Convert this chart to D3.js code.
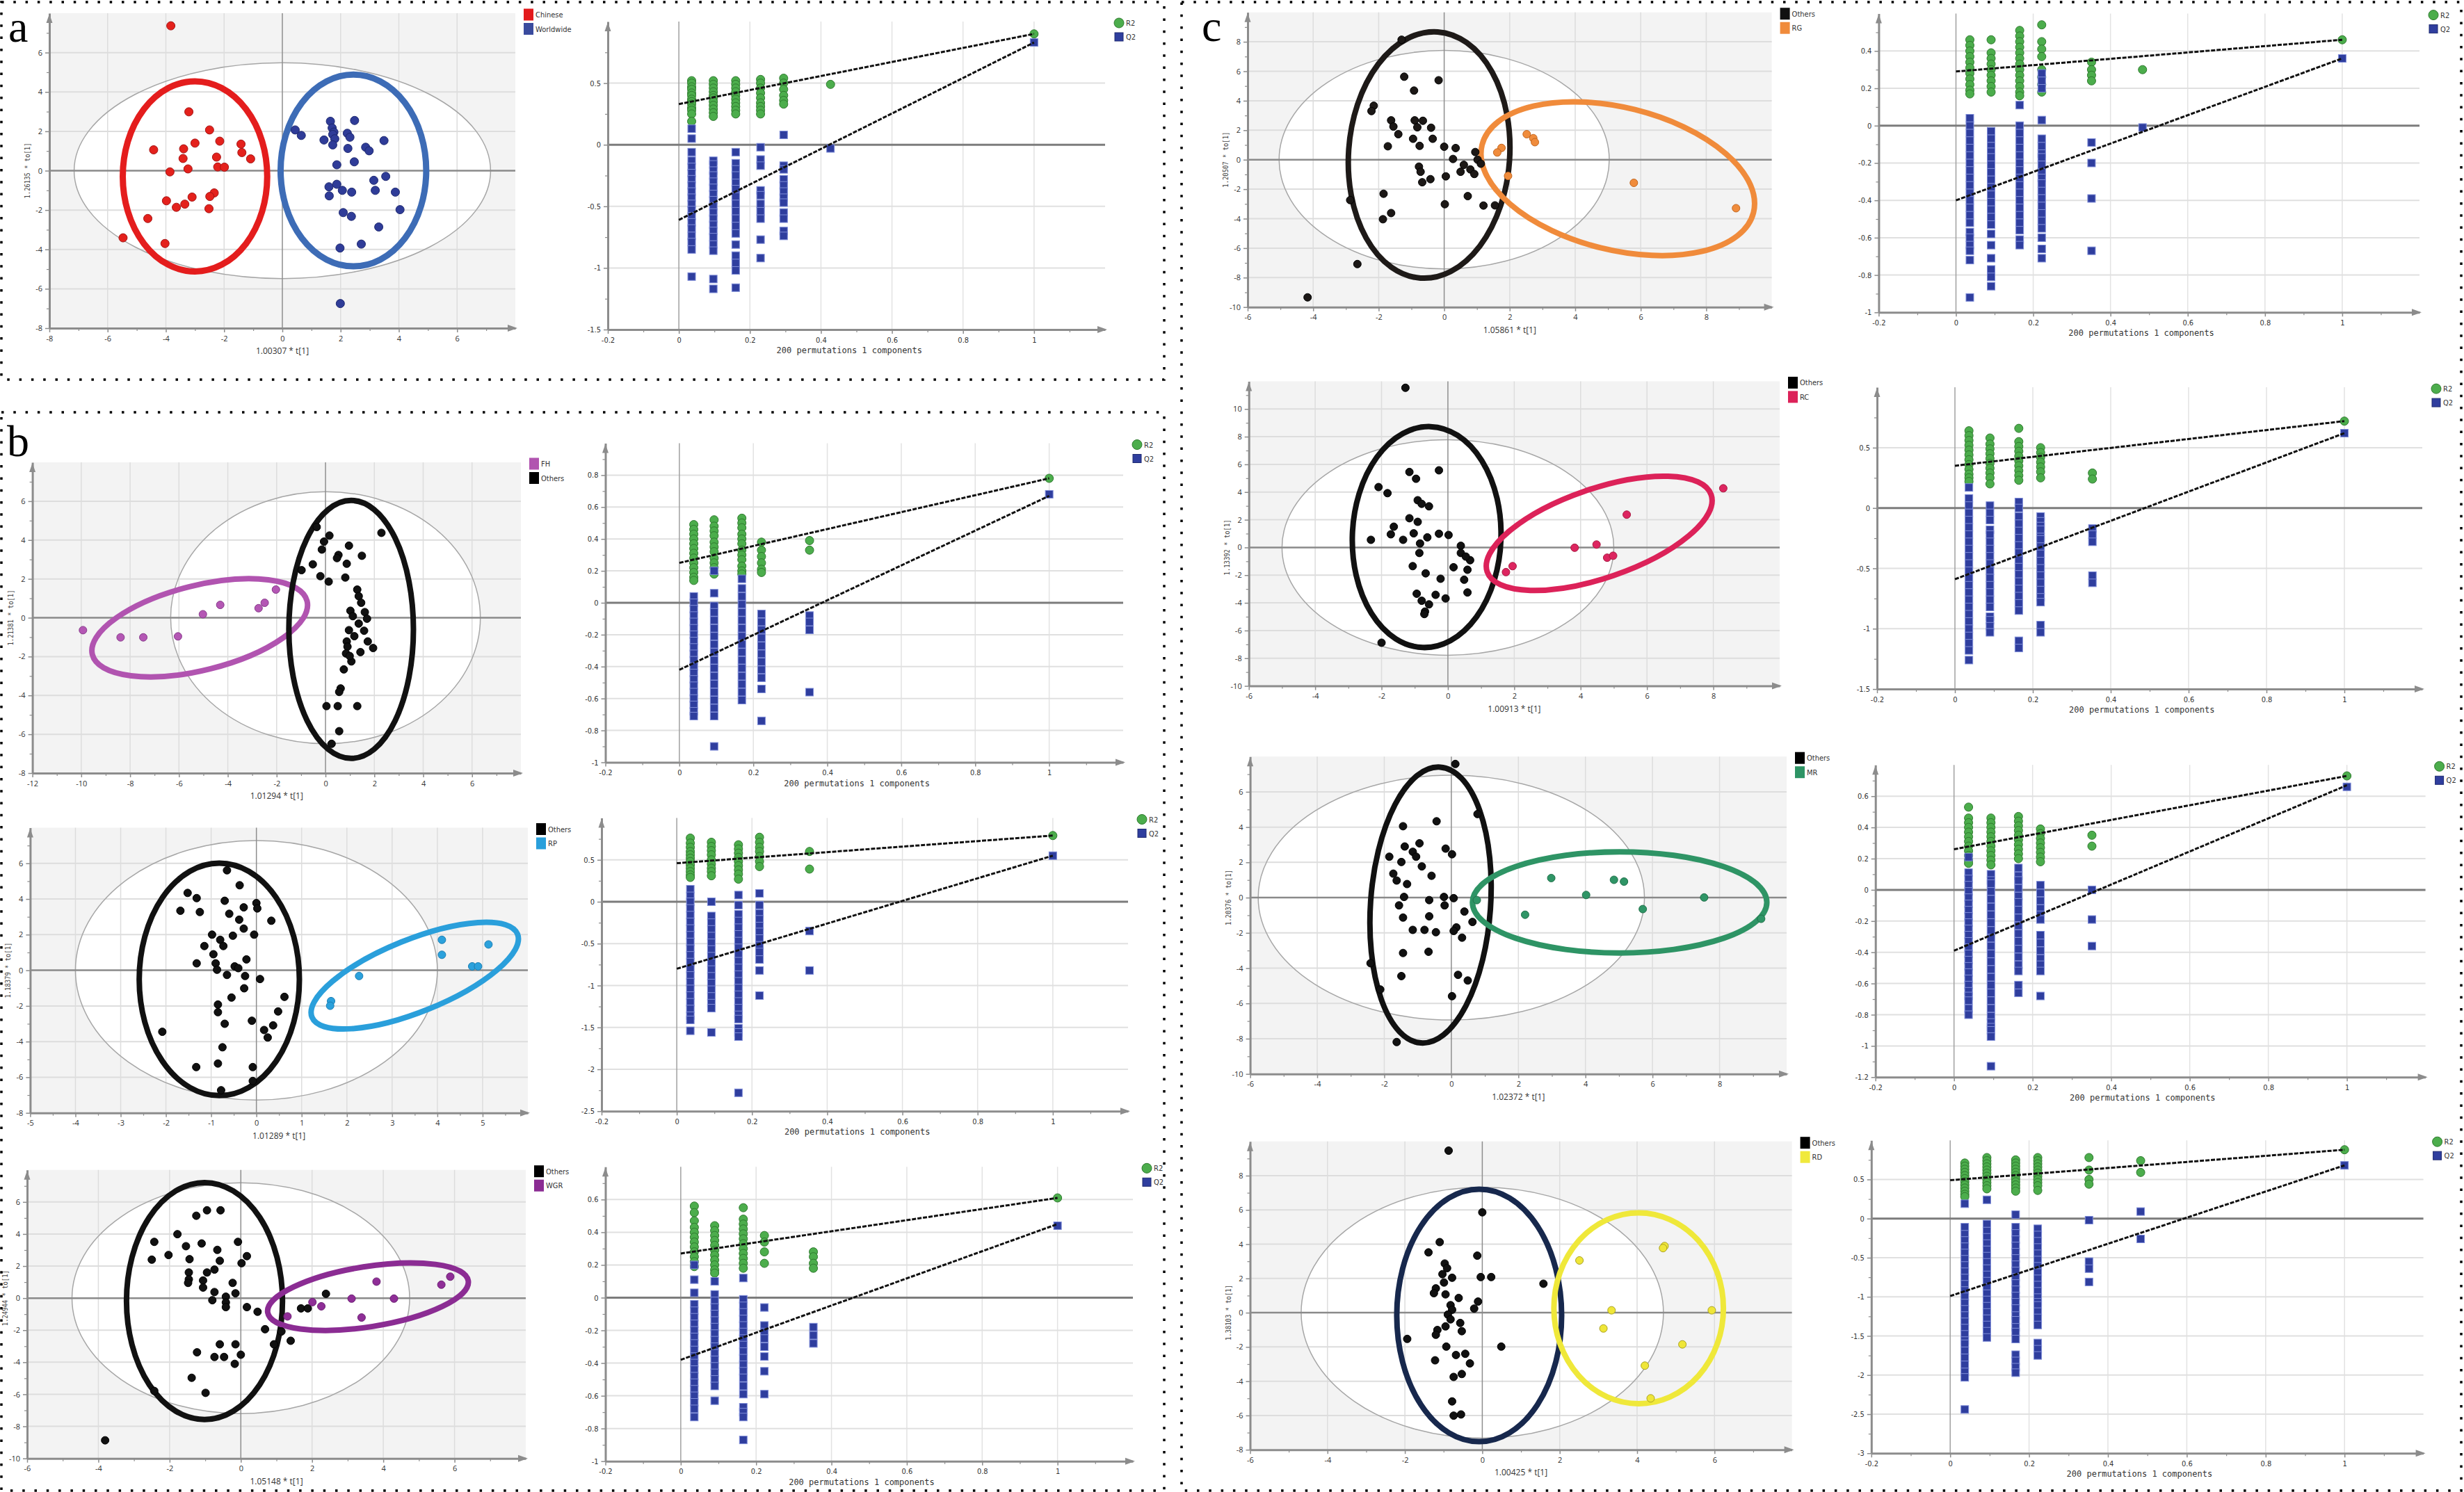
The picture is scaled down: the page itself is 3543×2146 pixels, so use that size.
<!DOCTYPE html>
<html>
<head>
<meta charset="utf-8">
<script src="https://cdn.jsdelivr.net/npm/d3@7/dist/d3.min.js"></script>
<style>
body { margin: 0; background: #fff; }
</style>
</head>
<body>
<script>
// ---------------- score plot data (t[1], to[1]) ----------------
var aChinese = [[-3.83,7.36],[-3.21,2.99],[-2.50,2.07],[-4.42,1.06],[-3.39,1.11],[-3.00,1.40],[-2.15,1.50],[-1.42,1.35],[-1.39,0.92],[-1.09,0.60],[-3.41,0.62],[-2.26,0.69],[-2.22,0.19],[-1.99,0.18],[-3.24,0.09],[-3.86,-0.06],[-3.10,-1.34],[-2.34,-1.13],[-2.49,-1.31],[-3.98,-1.53],[-3.64,-1.86],[-3.35,-1.70],[-2.52,-1.93],[-4.62,-2.43],[-5.47,-3.41],[-4.03,-3.70]];
var aWorldwide = [[0.44,2.07],[0.65,1.79],[1.65,2.51],[2.48,2.55],[1.71,2.17],[1.77,1.96],[1.73,1.84],[1.80,1.62],[1.43,1.56],[1.73,1.31],[2.23,1.90],[2.32,1.70],[2.25,1.13],[2.86,1.19],[2.98,1.01],[3.49,1.53],[1.87,0.30],[2.47,0.45],[3.14,-0.49],[3.55,-0.29],[1.60,-0.82],[1.87,-0.69],[2.06,-1.00],[2.38,-1.09],[1.61,-1.28],[3.19,-1.00],[3.88,-1.09],[4.04,-1.98],[2.09,-2.13],[2.37,-2.32],[3.31,-2.86],[1.98,-3.93],[2.71,-3.73],[1.99,-6.75]];

var b1FH = [[-9.93,-0.64],[-8.39,-1.01],[-7.46,-1.01],[-6.04,-0.96],[-5.02,0.18],[-4.31,0.66],[-2.74,0.49],[-2.49,0.77],[-2.03,1.45]];
var b1Others = [[-0.36,4.67],[2.29,4.37],[0.16,4.23],[-0.06,3.92],[0.96,3.71],[-0.15,3.51],[0.53,3.23],[0.47,3.07],[1.49,3.19],[-0.52,2.75],[0.87,2.78],[-0.98,2.45],[-0.21,2.14],[0.13,1.86],[0.81,2.07],[1.30,1.45],[1.36,1.11],[1.46,0.77],[1.02,0.36],[1.61,0.29],[1.12,0.08],[1.70,-0.05],[1.36,-0.30],[0.96,-0.64],[1.58,-0.67],[1.18,-0.95],[0.87,-1.22],[1.73,-1.22],[1.95,-1.56],[1.43,-1.77],[0.90,-1.49],[0.84,-1.84],[1.06,-2.25],[0.99,-1.97],[0.75,-2.66],[0.62,-3.64],[0.56,-3.82],[0.04,-4.55],[0.50,-4.55],[1.30,-4.55],[0.56,-5.84],[0.25,-6.49]];

var b2Others = [[-0.65,5.61],[-0.37,4.77],[-1.52,4.34],[-1.32,4.05],[-0.70,3.90],[0.00,3.77],[-0.28,3.53],[-1.68,3.34],[-1.25,3.27],[-0.60,3.17],[0.02,3.47],[-0.38,2.84],[0.33,2.78],[-0.28,2.34],[-0.98,2.00],[-0.52,1.94],[-0.05,2.00],[-0.80,1.71],[-1.15,1.36],[-0.73,1.36],[-0.95,0.90],[-0.22,0.61],[-1.32,0.39],[-0.90,0.39],[-0.48,0.22],[-0.87,0.03],[-0.40,0.12],[-0.65,-0.26],[-0.25,-0.32],[0.08,-0.49],[-0.27,-1.01],[0.62,-1.49],[-0.55,-1.53],[-0.85,-1.92],[-0.85,-2.35],[0.48,-2.31],[-0.10,-2.83],[-0.70,-3.00],[0.37,-3.09],[-2.08,-3.45],[0.17,-3.35],[0.25,-3.77],[-0.75,-4.32],[-1.33,-5.43],[-0.85,-5.23],[-0.08,-5.43],[-0.08,-6.21],[-0.78,-6.73]];
var b2RP = [[4.10,1.71],[4.10,0.87],[5.13,1.45],[4.77,0.22],[4.90,0.22],[2.27,-0.32],[1.65,-1.73],[1.63,-1.99]];

var b3Others = [[-0.95,5.48],[-0.57,5.48],[-1.25,5.14],[-1.78,3.99],[-2.43,3.51],[-1.54,3.24],[-1.10,3.41],[-0.08,3.51],[-0.66,3.01],[-2.03,2.69],[-2.50,2.40],[-1.44,2.43],[-0.59,2.33],[0.17,2.62],[0.02,2.18],[-0.74,1.78],[-0.95,1.60],[-1.46,1.60],[-1.46,1.17],[-1.06,1.10],[-1.48,0.95],[-0.23,0.95],[-1.06,0.66],[-0.74,0.38],[-0.15,0.30],[-0.42,0.09],[-0.80,-0.13],[-0.42,-0.27],[-0.42,-0.56],[0.17,-0.56],[0.47,-0.85],[2.39,0.27],[1.69,-0.64],[1.88,-0.64],[0.68,-1.94],[1.14,-2.08],[1.40,-2.66],[0.93,-2.88],[-0.59,-2.88],[-0.15,-2.88],[-1.23,-3.38],[-0.74,-3.67],[-0.47,-3.67],[0.00,-3.53],[-0.17,-4.10],[-1.38,-4.97],[-2.43,-5.79],[-0.99,-5.91],[-3.81,-8.87]];
var b3WGR = [[5.88,1.34],[5.63,0.84],[3.81,1.03],[3.11,-0.03],[4.30,-0.03],[2.01,-0.25],[2.26,-0.51],[3.39,-1.21],[1.31,-1.14]];

var c1Others = [[-1.30,8.14],[-1.22,5.63],[-0.17,5.39],[-0.92,4.69],[-2.15,3.66],[-2.22,3.30],[-1.62,2.67],[-0.90,2.67],[-0.65,2.64],[-1.55,2.25],[-0.82,2.20],[-0.40,2.17],[-1.40,1.73],[-0.95,1.42],[-0.35,1.42],[-0.75,0.94],[-1.72,0.91],[0.00,0.88],[0.35,0.79],[0.95,0.52],[0.27,0.05],[1.02,0.00],[1.12,-0.27],[0.60,-0.35],[-0.77,-0.47],[-0.72,-0.82],[0.50,-0.82],[0.80,-0.66],[0.92,-0.97],[0.05,-1.13],[-0.42,-1.32],[-0.67,-1.53],[-1.85,-2.31],[-2.87,-2.74],[0.72,-2.47],[0.02,-3.02],[1.20,-3.11],[1.55,-3.10],[-1.62,-3.62],[-1.87,-4.04],[-2.65,-7.08],[-4.17,-9.34]];
var c1RG = [[2.52,1.73],[2.72,1.46],[2.77,1.19],[1.75,0.80],[1.62,0.49],[1.95,-1.10],[5.79,-1.57],[8.91,-3.29]];

var c2Others = [[-1.28,11.53],[-1.16,5.45],[-0.27,5.57],[-0.96,4.96],[-2.09,4.36],[-1.82,3.92],[-0.91,3.41],[-0.57,2.97],[-0.79,3.15],[-1.16,2.11],[-0.91,1.85],[-1.63,1.50],[-1.03,1.02],[-0.27,0.99],[0.02,0.90],[-0.62,0.73],[-1.72,0.95],[-2.32,0.55],[-1.35,0.55],[-0.84,0.29],[0.39,0.12],[-0.86,-0.40],[0.39,-0.40],[0.67,-0.92],[0.54,-0.66],[-1.06,-1.35],[0.17,-1.43],[0.59,-1.61],[-0.67,-1.87],[-0.22,-2.26],[0.49,-2.33],[-0.94,-3.34],[-0.37,-3.42],[0.59,-3.25],[-0.07,-3.68],[-0.79,-3.85],[-0.57,-4.11],[-0.69,-4.63],[-0.71,-4.81],[-2.00,-6.88]];
var c2RC = [[8.30,4.27],[5.39,2.37],[3.82,-0.02],[4.48,0.21],[4.80,-0.74],[4.98,-0.60],[1.95,-1.35],[1.75,-1.78]];

var c3Others = [[0.12,7.58],[0.78,4.74],[-0.44,4.33],[-1.44,4.05],[-0.95,3.08],[-1.39,2.90],[-0.17,2.78],[0.02,2.46],[-1.15,2.60],[-1.05,2.32],[-1.85,2.32],[-1.49,2.02],[-0.88,1.77],[-0.59,1.24],[-1.73,1.36],[-1.63,0.97],[-1.32,0.77],[-1.41,0.04],[-0.66,-0.14],[-0.22,0.04],[0.07,-0.03],[-0.20,-0.44],[-1.56,-0.44],[0.39,-0.79],[-1.44,-1.13],[-0.66,-1.06],[0.63,-1.38],[-1.15,-1.83],[-0.80,-1.83],[0.15,-1.69],[-0.46,-1.96],[0.07,-1.89],[0.32,-2.27],[-1.44,-3.14],[-0.68,-3.07],[-2.41,-3.72],[-1.49,-4.45],[0.20,-4.38],[0.49,-4.70],[-2.12,-5.21],[0.02,-5.59],[-1.63,-8.19]];
var c3MR = [[2.98,1.11],[4.85,1.01],[5.15,0.91],[4.02,0.15],[7.54,0.01],[5.71,-0.65],[2.20,-0.97],[0.76,-0.14],[9.24,-1.20]];

var c4Others = [[-0.87,9.46],[0.00,5.86],[-1.10,4.12],[-1.39,3.52],[-0.13,3.33],[-0.97,2.87],[-0.91,2.60],[-1.03,2.25],[-0.78,2.04],[-0.04,2.08],[0.23,2.08],[1.58,1.69],[-0.99,1.76],[-1.20,1.42],[-1.25,1.14],[-0.95,1.07],[-0.61,0.86],[-0.11,0.65],[-0.82,0.44],[-0.78,0.17],[-0.21,0.24],[-0.89,-0.11],[-0.82,-0.39],[-0.57,-0.60],[-0.95,-0.80],[-1.16,-1.01],[-0.53,-1.08],[-1.20,-1.29],[-1.94,-1.53],[-0.93,-1.98],[0.49,-1.98],[-0.68,-2.47],[-0.44,-2.40],[-1.22,-2.78],[-0.32,-2.96],[-0.74,-3.75],[-0.53,-3.58],[-0.78,-5.18],[-0.74,-6.01],[-0.55,-5.94]];
var c4RD = [[4.71,3.89],[4.67,3.77],[2.51,3.05],[3.34,0.14],[5.93,0.14],[3.13,-0.92],[5.17,-1.85],[4.20,-3.09],[4.35,-5.00]];

// confidence ellipses: [cx, cy, rx (t units), ry (to units), tilt deg]
var aEllipses  = [[0,0,7.15,5.48,0], [-3.0,-0.29,2.48,4.83,0], [2.44,0.01,2.5,4.87,0]];
var b1Ellipses = [[0,0,6.34,6.49,0], [-5.15,-0.52,4.53,2.18,14], [1.05,-0.6,2.55,6.64,0]];
var b2Ellipses = [[0,0,4.0,7.28,0], [-0.82,-0.51,1.77,6.52,0], [3.5,-0.3,2.45,2.03,22]];
var b3Ellipses = [[0,0,4.74,7.2,0], [-1.02,-0.18,2.19,7.39,0], [3.57,0.09,2.85,1.88,9]];
var c1Ellipses = [[0,0,5.04,7.41,0], [-0.46,0.32,2.46,8.37,-4], [5.3,-1.29,4.27,4.83,-14]];
var c2Ellipses = [[0,0,5.0,7.78,0], [-0.64,0.75,2.24,7.98,-2], [4.56,1.02,3.57,3.22,19]];
var c3Ellipses = [[0,0,5.76,6.94,0], [-0.62,-0.42,1.79,7.84,-4], [5.02,-0.27,4.39,2.87,0]];
var c4Ellipses = [[0,0,4.68,7.32,0], [-0.08,-0.16,2.13,7.37,0], [4.04,0.26,2.19,5.57,0]];

// ---------------- permutation test data ----------------
var aPermX = [0.036, 0.097, 0.16, 0.23, 0.295, 0.427, 1];
var aR2 = [[0.52,0.50,0.47,0.45,0.42,0.40,0.37,0.35,0.33,0.30,0.28,0.25,0.19],[0.52,0.49,0.46,0.43,0.40,0.38,0.35,0.32,0.29,0.26,0.23],[0.52,0.49,0.46,0.43,0.40,0.37,0.34,0.31,0.28,0.25],[0.53,0.50,0.46,0.42,0.38,0.34,0.31,0.28,0.25],[0.54,0.50,0.45,0.40,0.36,0.33],[0.49],[0.90]];
var aQ2 = [[0.13,0.05,-0.06,-0.13,-0.18,-0.23,-0.28,-0.33,-0.38,-0.43,-0.48,-0.53,-0.58,-0.63,-0.68,-0.74,-0.79,-0.85,-1.07],[-0.13,-0.16,-0.21,-0.25,-0.30,-0.35,-0.40,-0.45,-0.50,-0.55,-0.60,-0.65,-0.70,-0.75,-0.81,-0.86,-1.09,-1.17],[-0.06,-0.15,-0.20,-0.25,-0.31,-0.36,-0.42,-0.48,-0.54,-0.60,-0.66,-0.72,-0.81,-0.90,-0.96,-1.02,-1.16],[-0.02,-0.12,-0.17,-0.37,-0.41,-0.48,-0.54,-0.60,-0.77,-0.92],[0.08,-0.17,-0.20,-0.28,-0.33,-0.38,-0.43,-0.47,-0.55,-0.60,-0.70,-0.74],[-0.03],[0.83]];
var aFit = [[0.33,0.90],[-0.61,0.83]];

var b1PermX = [0.039, 0.094, 0.169, 0.222, 0.352, 1];
var b1R2 = [[0.49,0.46,0.43,0.40,0.37,0.34,0.31,0.28,0.25,0.22,0.19,0.16,0.14],[0.52,0.48,0.45,0.42,0.38,0.35,0.32,0.28,0.25,0.22,0.18],[0.53,0.50,0.47,0.43,0.40,0.37,0.33,0.30,0.27,0.23,0.20,0.18],[0.38,0.33,0.29,0.25,0.21,0.19],[0.39,0.33],[0.78]];
var b1Q2 = [[0.04,0.00,-0.04,-0.08,-0.12,-0.16,-0.20,-0.24,-0.28,-0.32,-0.36,-0.40,-0.44,-0.48,-0.52,-0.56,-0.60,-0.64,-0.68,-0.71],[0.20,0.06,-0.02,-0.06,-0.11,-0.16,-0.21,-0.26,-0.31,-0.36,-0.41,-0.46,-0.51,-0.56,-0.61,-0.66,-0.71,-0.90],[0.15,0.09,0.04,-0.01,-0.06,-0.11,-0.16,-0.21,-0.26,-0.31,-0.36,-0.41,-0.46,-0.51,-0.56,-0.61],[-0.07,-0.12,-0.17,-0.22,-0.27,-0.32,-0.37,-0.42,-0.47,-0.54,-0.74],[-0.08,-0.12,-0.17,-0.56],[0.68]];
var b1Fit = [[0.25,0.78],[-0.42,0.67]];

var b2PermX = [0.036, 0.092, 0.164, 0.22, 0.353, 1];
var b2R2 = [[0.76,0.70,0.65,0.60,0.56,0.52,0.48,0.44,0.40,0.36,0.32,0.29],[0.71,0.66,0.61,0.56,0.50,0.45,0.40,0.36,0.31],[0.68,0.63,0.58,0.53,0.48,0.43,0.38,0.33,0.27],[0.77,0.71,0.65,0.60,0.54,0.48,0.42],[0.60,0.39],[0.79]];
var b2Q2 = [[0.15,0.07,0.00,-0.08,-0.16,-0.24,-0.32,-0.40,-0.48,-0.56,-0.64,-0.72,-0.80,-0.88,-0.96,-1.04,-1.12,-1.20,-1.28,-1.36,-1.41,-1.54],[0.00,-0.17,-0.25,-0.33,-0.41,-0.49,-0.57,-0.65,-0.73,-0.81,-0.89,-0.97,-1.05,-1.13,-1.21,-1.27,-1.56],[0.08,-0.04,-0.15,-0.23,-0.31,-0.39,-0.47,-0.55,-0.63,-0.71,-0.79,-0.87,-0.95,-1.03,-1.11,-1.19,-1.27,-1.35,-1.40,-1.51,-1.56,-1.61,-2.28],[0.10,-0.04,-0.14,-0.21,-0.29,-0.36,-0.44,-0.52,-0.60,-0.69,-0.82,-1.12],[-0.35,-0.82],[0.55]];
var b2Fit = [[0.46,0.79],[-0.80,0.55]];

var b3PermX = [0.036, 0.09, 0.166, 0.222, 0.352, 1];
var b3R2 = [[0.56,0.52,0.47,0.43,0.40,0.37,0.34,0.31,0.28,0.25,0.22,0.19],[0.44,0.41,0.38,0.35,0.32,0.29,0.26,0.23,0.20,0.17,0.15],[0.55,0.48,0.45,0.42,0.39,0.36,0.33,0.30,0.27,0.24,0.21,0.18],[0.38,0.34,0.28,0.21],[0.28,0.25,0.21,0.18],[0.61]];
var b3Q2 = [[0.20,0.11,0.03,-0.04,-0.08,-0.12,-0.16,-0.20,-0.24,-0.28,-0.32,-0.36,-0.40,-0.44,-0.48,-0.52,-0.56,-0.60,-0.64,-0.68,-0.73],[0.10,0.02,-0.02,-0.06,-0.10,-0.14,-0.18,-0.22,-0.26,-0.30,-0.34,-0.38,-0.42,-0.46,-0.50,-0.54,-0.63],[0.12,-0.01,-0.05,-0.09,-0.13,-0.17,-0.21,-0.25,-0.29,-0.33,-0.37,-0.41,-0.45,-0.49,-0.54,-0.59,-0.67,-0.70,-0.73,-0.87],[-0.06,-0.17,-0.21,-0.25,-0.30,-0.36,-0.45,-0.59],[-0.18,-0.23,-0.28],[0.44]];
var b3Fit = [[0.27,0.61],[-0.38,0.45]];

var c1PermX = [0.036, 0.091, 0.165, 0.222, 0.351, 0.483, 1];
var c1R2 = [[0.46,0.43,0.40,0.37,0.34,0.31,0.28,0.25,0.22,0.19,0.17],[0.46,0.39,0.36,0.33,0.30,0.27,0.24,0.21,0.18],[0.51,0.48,0.45,0.42,0.39,0.36,0.33,0.30,0.27,0.24,0.21,0.18,0.16],[0.54,0.45,0.41,0.37,0.30,0.26,0.22,0.18],[0.34,0.30,0.27,0.24],[0.30],[0.46]];
var c1Q2 = [[0.04,0.00,-0.04,-0.08,-0.12,-0.16,-0.20,-0.24,-0.28,-0.32,-0.36,-0.40,-0.44,-0.48,-0.52,-0.57,-0.60,-0.64,-0.67,-0.72,-0.92],[-0.03,-0.07,-0.11,-0.14,-0.17,-0.21,-0.25,-0.29,-0.33,-0.37,-0.41,-0.45,-0.49,-0.53,-0.58,-0.64,-0.71,-0.77,-0.81,-0.86],[0.11,0.00,-0.04,-0.08,-0.12,-0.16,-0.20,-0.24,-0.28,-0.32,-0.36,-0.40,-0.44,-0.48,-0.52,-0.56,-0.61,-0.64],[0.28,0.24,0.20,0.03,-0.07,-0.11,-0.15,-0.17,-0.21,-0.25,-0.28,-0.31,-0.35,-0.39,-0.43,-0.47,-0.51,-0.55,-0.60,-0.66,-0.71],[-0.09,-0.20,-0.39,-0.67],[-0.01],[0.36]];
var c1Fit = [[0.29,0.46],[-0.40,0.36]];

var c2PermX = [0.036, 0.09, 0.164, 0.22, 0.353, 1];
var c2R2 = [[0.64,0.60,0.56,0.52,0.48,0.44,0.40,0.36,0.32,0.28,0.25,0.22],[0.58,0.53,0.49,0.45,0.41,0.37,0.33,0.29,0.25,0.20],[0.66,0.55,0.51,0.47,0.43,0.39,0.35,0.31,0.27,0.23],[0.50,0.46,0.42,0.38,0.34,0.30,0.25],[0.29,0.24],[0.72]];
var c2Q2 = [[0.17,0.08,0.02,-0.04,-0.10,-0.16,-0.22,-0.28,-0.34,-0.40,-0.46,-0.52,-0.58,-0.64,-0.70,-0.76,-0.82,-0.88,-0.94,-1.00,-1.06,-1.12,-1.18,-1.26],[0.02,-0.04,-0.10,-0.18,-0.22,-0.28,-0.34,-0.40,-0.46,-0.52,-0.58,-0.64,-0.70,-0.76,-0.82,-0.90,-0.93,-0.98,-1.03],[0.05,0.00,-0.07,-0.13,-0.19,-0.25,-0.31,-0.37,-0.43,-0.49,-0.55,-0.61,-0.67,-0.73,-0.79,-0.85,-1.10,-1.16],[-0.07,-0.11,-0.15,-0.18,-0.24,-0.26,-0.32,-0.38,-0.44,-0.50,-0.56,-0.62,-0.68,-0.74,-0.78,-0.97,-1.03],[-0.17,-0.22,-0.28,-0.56,-0.62],[0.62]];
var c2Fit = [[0.35,0.72],[-0.59,0.62]];

var c3PermX = [0.037, 0.094, 0.164, 0.22, 0.351, 1];
var c3R2 = [[0.53,0.46,0.43,0.40,0.37,0.34,0.31,0.28,0.25,0.22,0.19,0.17],[0.46,0.43,0.40,0.37,0.34,0.31,0.28,0.25,0.22,0.19,0.16],[0.47,0.44,0.41,0.38,0.35,0.32,0.29,0.26,0.23,0.20],[0.39,0.36,0.33,0.30,0.27,0.24,0.21,0.18],[0.35,0.28],[0.73]];
var c3Q2 = [[0.21,0.11,0.07,0.03,-0.01,-0.05,-0.09,-0.13,-0.17,-0.21,-0.25,-0.29,-0.33,-0.37,-0.41,-0.45,-0.49,-0.53,-0.57,-0.61,-0.65,-0.68,-0.71,-0.76,-0.80],[0.10,0.06,0.04,-0.01,-0.06,-0.11,-0.16,-0.21,-0.26,-0.31,-0.36,-0.41,-0.46,-0.51,-0.56,-0.61,-0.66,-0.71,-0.76,-0.81,-0.85,-0.88,-0.90,-0.94,-1.13],[0.14,0.09,0.06,0.01,-0.04,-0.08,-0.13,-0.18,-0.23,-0.28,-0.33,-0.38,-0.43,-0.48,-0.52,-0.61,-0.66],[0.03,-0.02,-0.07,-0.12,-0.16,-0.19,-0.29,-0.34,-0.39,-0.44,-0.48,-0.52,-0.68],[0.00,-0.19,-0.36],[0.66]];
var c3Fit = [[0.26,0.73],[-0.39,0.67]];

var c4PermX = [0.037, 0.093, 0.166, 0.222, 0.352, 0.483, 1];
var c4R2 = [[0.71,0.67,0.63,0.59,0.55,0.51,0.47,0.43,0.39,0.35,0.31,0.28],[0.78,0.74,0.70,0.66,0.62,0.58,0.54,0.50,0.46,0.42,0.38],[0.75,0.71,0.67,0.63,0.59,0.55,0.51,0.47,0.43,0.39,0.35],[0.78,0.74,0.70,0.66,0.62,0.58,0.54,0.50,0.46,0.42,0.36],[0.78,0.62,0.50,0.44],[0.74,0.59],[0.88]];
var c4Q2 = [[0.19,-0.11,-0.20,-0.28,-0.36,-0.44,-0.52,-0.60,-0.68,-0.76,-0.84,-0.92,-1.00,-1.08,-1.16,-1.24,-1.32,-1.40,-1.48,-1.56,-1.60,-1.69,-1.78,-1.87,-1.96,-2.03,-2.44],[0.24,-0.07,-0.16,-0.24,-0.32,-0.40,-0.48,-0.56,-0.64,-0.72,-0.80,-0.88,-0.96,-1.04,-1.12,-1.20,-1.28,-1.36,-1.44,-1.52],[0.05,-0.11,-0.19,-0.27,-0.35,-0.43,-0.51,-0.59,-0.67,-0.75,-0.83,-0.91,-0.99,-1.07,-1.15,-1.24,-1.30,-1.39,-1.45,-1.54,-1.74,-1.82,-1.90,-1.97],[-0.13,-0.21,-0.29,-0.37,-0.45,-0.53,-0.61,-0.69,-0.77,-0.85,-0.93,-1.01,-1.07,-1.11,-1.19,-1.27,-1.36,-1.59,-1.67,-1.75],[-0.02,-0.55,-0.64,-0.81],[0.09,-0.26],[0.68]];
var c4Fit = [[0.49,0.88],[-0.99,0.68]];

// ---------------- axis labels ----------------
var tLabels  = ["1.00307 * t[1]", "1.01294 * t[1]", "1.01289 * t[1]", "1.05148 * t[1]", "1.05861 * t[1]", "1.00913 * t[1]", "1.02372 * t[1]", "1.00425 * t[1]"];
var toLabels = ["1.26135 * to[1]", "1.21381 * to[1]", "1.18379 * to[1]", "1.24944 * to[1]", "1.20507 * to[1]", "1.13392 * to[1]", "1.20376 * to[1]", "1.38103 * to[1]"];
var permLabel = "200 permutations 1 components";

// ---------------- layout & styles ----------------
var W = 3543, H = 2146;
var svg = d3.select("body").append("svg")
    .attr("width", W).attr("height", H)
    .style("background", "#fff");

var BLACK = { fill: "#111", stroke: "#000", ell: "#111" };

var panels = [
  { score: { x: [71, 741], y: [472, 19], xDom: [-8, 8], xStep: 2, yDom: [-8, 8], yStep: 2, r: 6, ew: 9,
      ell: aEllipses,
      groups: [ { name: "Chinese", pts: aChinese, fill: "#e4211c", stroke: "#a51212", ell: "#e41d1d", sw: "#e31a1c" },
                { name: "Worldwide", pts: aWorldwide, fill: "#2f3c98", stroke: "#1d2870", ell: "#3d6cb6", sw: "#3a4b9e" } ] },
    perm: { x: [874, 1589], y: [474, 31], yDom: [-1.5, 1], yStep: 0.5, px: aPermX, r2: aR2, q2: aQ2, fit: aFit } },

  { score: { x: [46.6, 749], y: [1112, 665], xDom: [-12, 8], xStep: 2, yDom: [-8, 8], yStep: 2, r: 5.5, ew: 8,
      ell: b1Ellipses,
      groups: [ { name: "FH", pts: b1FH, fill: "#b457b4", stroke: "#86398a", ell: "#b154b0", sw: "#b154b0" },
                Object.assign({ name: "Others", pts: b1Others, sw: "#000" }, BLACK) ] },
    perm: { x: [870.5, 1615], y: [1096.5, 637.5], yDom: [-1, 1], yStep: 0.2, px: b1PermX, r2: b1R2, q2: b1Q2, fit: b1Fit } },

  { score: { x: [43.4, 759], y: [1600.7, 1190.5], xDom: [-5, 6], xStep: 1, yDom: [-8, 8], yStep: 2, r: 5.5, ew: 8,
      ell: b2Ellipses,
      groups: [ Object.assign({ name: "Others", pts: b2Others, sw: "#000" }, BLACK),
                { name: "RP", pts: b2RP, fill: "#2ba1dc", stroke: "#1a7db2", ell: "#2a9fdb", sw: "#2a9fdb" } ] },
    perm: { x: [865, 1622], y: [1598.3, 1176.5], yDom: [-2.5, 1], yStep: 0.5, px: b2PermX, r2: b2R2, q2: b2Q2, fit: b2Fit } },

  { score: { x: [39, 756], y: [2097.7, 1682.7], xDom: [-6, 8], xStep: 2, yDom: [-10, 8], yStep: 2, r: 5.5, ew: 8,
      ell: b3Ellipses,
      groups: [ Object.assign({ name: "Others", pts: b3Others, sw: "#000" }, BLACK),
                { name: "WGR", pts: b3WGR, fill: "#8f2e97", stroke: "#6a1d72", ell: "#8b2c93", sw: "#8b2c93" } ] },
    perm: { x: [870.5, 1629], y: [2101.7, 1678.3], yDom: [-1, 0.8], yStep: 0.2, px: b3PermX, r2: b3R2, q2: b3Q2, fit: b3Fit } },

  { score: { x: [1794, 2547.6], y: [441.7, 17.7], xDom: [-6, 10], xStep: 2, yDom: [-10, 10], yStep: 2, r: 5.5, ew: 8,
      ell: c1Ellipses,
      groups: [ { name: "Others", pts: c1Others, fill: "#1c1816", stroke: "#000", ell: "#1e1a18", sw: "#111" },
                { name: "RG", pts: c1RG, fill: "#f08c3c", stroke: "#c2661f", ell: "#f08b3b", sw: "#f08b3b" } ] },
    perm: { x: [2701.4, 3479], y: [449.3, 19.6], yDom: [-1, 0.6], yStep: 0.2, px: c1PermX, r2: c1R2, q2: c1Q2, fit: c1Fit } },

  { score: { x: [1795.7, 2559], y: [986.6, 548.4], xDom: [-6, 10], xStep: 2, yDom: [-10, 12], yStep: 2, r: 5.5, ew: 8,
      ell: c2Ellipses,
      groups: [ Object.assign({ name: "Others", pts: c2Others, sw: "#000" }, BLACK),
                { name: "RC", pts: c2RC, fill: "#dd2560", stroke: "#a8183f", ell: "#dc2259", sw: "#dc2259" } ] },
    perm: { x: [2699, 3483], y: [991.1, 557.1], yDom: [-1.5, 1], yStep: 0.5, px: c2PermX, r2: c2R2, q2: c2Q2, fit: c2Fit } },

  { score: { x: [1797.6, 2569], y: [1544.7, 1088.2], xDom: [-6, 10], xStep: 2, yDom: [-10, 8], yStep: 2, r: 5.5, ew: 8,
      ell: c3Ellipses,
      groups: [ Object.assign({ name: "Others", pts: c3Others, sw: "#000" }, BLACK),
                { name: "MR", pts: c3MR, fill: "#2f9566", stroke: "#1f6e48", ell: "#2e9465", sw: "#2e9465" } ] },
    perm: { x: [2696.7, 3487.6], y: [1549.3, 1100.3], yDom: [-1.2, 0.8], yStep: 0.2, px: c3PermX, r2: c3R2, q2: c3Q2, fit: c3Fit } },

  { score: { x: [1797.5, 2576.6], y: [2085.2, 1641.7], xDom: [-6, 8], xStep: 2, yDom: [-8, 10], yStep: 2, r: 5.5, ew: 8,
      ell: c4Ellipses,
      groups: [ { name: "Others", pts: c4Others, fill: "#111", stroke: "#000", ell: "#17284d", sw: "#000" },
                { name: "RD", pts: c4RD, fill: "#efe638", stroke: "#a9a11f", ell: "#efe83a", sw: "#f0e93c" } ] },
    perm: { x: [2690.8, 3484.6], y: [2090.3, 1640.2], yDom: [-3, 1], yStep: 0.5, px: c4PermX, r2: c4R2, q2: c4Q2, fit: c4Fit } }
];

var TICK_FONT = "'Open Sans','Noto Sans',sans-serif";
var NARROW_FONT = "'Liberation Sans Narrow','DejaVu Sans Condensed','Open Sans',sans-serif";
var AXIS_GREY = "#8c8c8c";

function steps(a, b, s) {
    var n = Math.round((b - a) / s);
    return d3.range(n + 1).map(function(i) { return +(a + i * s).toFixed(4); });
}
function fmt(v) { return String(+v.toFixed(2)); }

function addEllipse(g, e, x, y) {
    var ux = Math.abs(x(1) - x(0)), uy = Math.abs(y(1) - y(0));
    return g.append("ellipse")
        .attr("cx", 0).attr("cy", 0)
        .attr("rx", e[2] * ux).attr("ry", e[3] * uy)
        .attr("transform", "translate(" + x(e[0]) + "," + y(e[1]) + ") rotate(" + (-e[4]) + ")");
}

function styleAxis(sel, font, size) {
    sel.select(".domain").attr("stroke", AXIS_GREY).attr("stroke-width", 3);
    sel.selectAll(".tick line").attr("stroke", AXIS_GREY).attr("stroke-width", 1.5);
    sel.selectAll(".tick text").attr("fill", "#333").style("font-family", font).style("font-size", size + "px");
}

function drawAxes(g, x, y, xDom, yDom, xStep, yStep, font) {
    var L = x.range()[0], R = x.range()[1], B = y.range()[0], T = y.range()[1];
    var xt = steps(xDom[0], xDom[1], xStep), yt = steps(yDom[0], yDom[1], yStep);
    var xMinor = steps(xDom[0] + xStep / 2, xDom[1] - xStep / 2, xStep);
    var yMinor = steps(yDom[0] + yStep / 2, yDom[1] - yStep / 2, yStep);

    var gx = g.append("g").attr("transform", "translate(0," + B + ")")
        .call(d3.axisBottom(x).tickValues(xt.slice(0, -1)).tickSize(6).tickSizeOuter(0).tickPadding(5).tickFormat(fmt));
    styleAxis(gx, font, 11);
    var gxm = g.append("g").attr("transform", "translate(0," + B + ")")
        .call(d3.axisBottom(x).tickValues(xMinor).tickSize(4).tickFormat(""));
    gxm.select(".domain").remove();
    gxm.selectAll(".tick line").attr("stroke", AXIS_GREY).attr("stroke-width", 1.2);

    var gy = g.append("g").attr("transform", "translate(" + L + ",0)")
        .call(d3.axisLeft(y).tickValues(yt.slice(0, -1)).tickSize(6).tickSizeOuter(0).tickPadding(4).tickFormat(fmt));
    styleAxis(gy, font, 11);
    var gym = g.append("g").attr("transform", "translate(" + L + ",0)")
        .call(d3.axisLeft(y).tickValues(yMinor).tickSize(4).tickFormat(""));
    gym.select(".domain").remove();
    gym.selectAll(".tick line").attr("stroke", AXIS_GREY).attr("stroke-width", 1.2);

    // arrow heads
    g.append("path").attr("fill", AXIS_GREY)
        .attr("d", "M" + (R + 3) + "," + B + "L" + (R - 11) + "," + (B - 5) + "L" + (R - 11) + "," + (B + 5) + "Z");
    g.append("path").attr("fill", AXIS_GREY)
        .attr("d", "M" + L + "," + (T + 1) + "L" + (L - 4.5) + "," + (T + 14) + "L" + (L + 4.5) + "," + (T + 14) + "Z");
}

function drawScore(p, idx) {
    var g = svg.append("g");
    var x = d3.scaleLinear().domain(p.xDom).range(p.x);
    var y = d3.scaleLinear().domain(p.yDom).range(p.y);
    var L = p.x[0], R = p.x[1], B = p.y[0], T = p.y[1];

    g.append("rect").attr("x", L).attr("y", T).attr("width", R - L).attr("height", B - T).attr("fill", "#f3f3f3");
    addEllipse(g, p.ell[0], x, y).attr("fill", "#fff").attr("stroke", "none");

    var xg = steps(p.xDom[0], p.xDom[1], p.xStep).filter(function(v) { return v > p.xDom[0] && v < p.xDom[1] && v !== 0; });
    var yg = steps(p.yDom[0], p.yDom[1], p.yStep).filter(function(v) { return v > p.yDom[0] && v < p.yDom[1] && v !== 0; });
    g.selectAll(null).data(xg).enter().append("line")
        .attr("x1", function(d) { return x(d); }).attr("x2", function(d) { return x(d); })
        .attr("y1", B).attr("y2", T).attr("stroke", "#dddddd").attr("stroke-width", 1.5);
    g.selectAll(null).data(yg).enter().append("line")
        .attr("y1", function(d) { return y(d); }).attr("y2", function(d) { return y(d); })
        .attr("x1", L).attr("x2", R).attr("stroke", "#dddddd").attr("stroke-width", 2);

    addEllipse(g, p.ell[0], x, y).attr("fill", "none").attr("stroke", "#a6a6a6").attr("stroke-width", 1.5);

    g.append("line").attr("x1", x(0)).attr("x2", x(0)).attr("y1", B).attr("y2", T)
        .attr("stroke", "#8e8e8e").attr("stroke-width", 1.5);
    g.append("line").attr("x1", L).attr("x2", R).attr("y1", y(0)).attr("y2", y(0))
        .attr("stroke", "#8a8a8a").attr("stroke-width", 2.5);

    p.groups.forEach(function(gr, i) {
        addEllipse(g, p.ell[i + 1], x, y).attr("fill", "none").attr("stroke", gr.ell).attr("stroke-width", p.ew);
    });
    p.groups.forEach(function(gr) {
        g.append("g").selectAll("circle").data(gr.pts).enter().append("circle")
            .attr("cx", function(d) { return x(d[0]); })
            .attr("cy", function(d) { return y(d[1]); })
            .attr("r", p.r)
            .attr("fill", gr.fill).attr("stroke", gr.stroke).attr("stroke-width", 1);
    });

    drawAxes(g, x, y, p.xDom, p.yDom, p.xStep, p.yStep, TICK_FONT);

    g.append("text").attr("x", (L + R) / 2).attr("y", B + 37)
        .attr("text-anchor", "middle").attr("fill", "#333")
        .style("font-family", TICK_FONT).style("font-size", "12px")
        .text(tLabels[idx]);
    var ly = y(0);
    g.append("text").attr("transform", "translate(" + (L - 28) + "," + ly + ") rotate(-90)")
        .attr("text-anchor", "middle").attr("fill", "#444")
        .attr("textLength", 80).attr("lengthAdjust", "spacingAndGlyphs")
        .style("font-family", "'DejaVu Sans Mono',monospace").style("font-size", "11px")
        .text(toLabels[idx]);

    // legend
    var lg = g.append("g").attr("transform", "translate(" + (R + 12) + "," + (T + 2) + ")");
    p.groups.forEach(function(gr, i) {
        lg.append("rect").attr("x", 0).attr("y", i * 20.5 - 8.5).attr("width", 14).attr("height", 17).attr("fill", gr.sw);
        lg.append("text").attr("x", 17).attr("y", i * 20.5 + 4)
            .attr("fill", "#333").style("font-family", NARROW_FONT).style("font-size", "11px")
            .text(gr.name);
    });
}

function drawPerm(p) {
    var g = svg.append("g");
    var xDom = [-0.2, 1.2];
    var x = d3.scaleLinear().domain(xDom).range(p.x);
    var y = d3.scaleLinear().domain(p.yDom).range(p.y);
    var L = p.x[0], R = p.x[1], B = p.y[0], T = p.y[1];

    var xg = [0.2, 0.4, 0.6, 0.8, 1];
    g.selectAll(null).data(xg).enter().append("line")
        .attr("x1", function(d) { return x(d); }).attr("x2", function(d) { return x(d); })
        .attr("y1", B).attr("y2", T).attr("stroke", "#e2e2e2").attr("stroke-width", 1.5);
    var yg = steps(p.yDom[0], p.yDom[1], p.yStep).filter(function(v) { return v > p.yDom[0] && v < p.yDom[1] && v !== 0; });
    g.selectAll(null).data(yg).enter().append("line")
        .attr("y1", function(d) { return y(d); }).attr("y2", function(d) { return y(d); })
        .attr("x1", L).attr("x2", R).attr("stroke", "#e0e0e0").attr("stroke-width", 2);
    g.append("line").attr("x1", x(0)).attr("x2", x(0)).attr("y1", B).attr("y2", T)
        .attr("stroke", "#a0a0a0").attr("stroke-width", 1.5);
    g.append("line").attr("x1", L).attr("x2", R).attr("y1", y(0)).attr("y2", y(0))
        .attr("stroke", "#7c7c7c").attr("stroke-width", 3);

    var r2pts = [], q2pts = [];
    p.px.forEach(function(cx, i) {
        p.r2[i].forEach(function(v) { r2pts.push([cx, v]); });
        p.q2[i].forEach(function(v) { q2pts.push([cx, v]); });
    });
    g.append("g").selectAll("circle").data(r2pts).enter().append("circle")
        .attr("cx", function(d) { return x(d[0]); }).attr("cy", function(d) { return y(d[1]); })
        .attr("r", 6).attr("fill", "#4cad4c").attr("stroke", "#2e7a2e").attr("stroke-width", 1);
    g.append("g").selectAll("rect").data(q2pts).enter().append("rect")
        .attr("x", function(d) { return x(d[0]) - 5.5; }).attr("y", function(d) { return y(d[1]) - 5.5; })
        .attr("width", 11).attr("height", 11)
        .attr("fill", "#2f3e9e").attr("stroke", "#7f8dd8").attr("stroke-width", 1);

    p.fit.forEach(function(f) {
        g.append("line").attr("x1", x(0)).attr("y1", y(f[0])).attr("x2", x(1)).attr("y2", y(f[1]))
            .attr("stroke", "#111").attr("stroke-width", 3).attr("stroke-dasharray", "6,2");
    });

    drawAxes(g, x, y, xDom, p.yDom, 0.2, p.yStep, NARROW_FONT);

    g.append("text").attr("x", x(0.48)).attr("y", B + 34)
        .attr("text-anchor", "middle").attr("fill", "#333")
        .style("font-family", "'DejaVu Sans Mono',monospace").style("font-size", "12px")
        .text(permLabel);

    var lg = g.append("g").attr("transform", "translate(" + (R + 20) + "," + (T + 2) + ")");
    lg.append("circle").attr("cx", 0).attr("cy", 0).attr("r", 7).attr("fill", "#4cad4c").attr("stroke", "#2e7a2e");
    lg.append("rect").attr("x", -6).attr("y", 14).attr("width", 12).attr("height", 12).attr("fill", "#2f3e9e").attr("stroke", "#1f2a70");
    lg.append("text").attr("x", 10).attr("y", 4).attr("fill", "#333")
        .style("font-family", NARROW_FONT).style("font-size", "11px").text("R2");
    lg.append("text").attr("x", 10).attr("y", 24).attr("fill", "#333")
        .style("font-family", NARROW_FONT).style("font-size", "11px").text("Q2");
}

panels.forEach(function(pn, i) {
    drawScore(pn.score, i);
    drawPerm(pn.perm);
});

// panel letters
[["a", 12, 60], ["b", 10, 656], ["c", 1728, 59]].forEach(function(l) {
    svg.append("text").attr("x", l[1]).attr("y", l[2])
        .style("font-family", "'Liberation Serif','DejaVu Serif',serif").style("font-size", "64px")
        .attr("fill", "#000").text(l[0]);
});

// dotted frames around the three panels
var frames = [[2, 3, 1674, 546], [2, 593, 1674, 2144], [1699, 3, 3539, 2144]];
frames.forEach(function(f) {
    svg.append("rect").attr("x", f[0]).attr("y", f[1]).attr("width", f[2] - f[0]).attr("height", f[3] - f[1])
        .attr("fill", "none").attr("stroke", "#000").attr("stroke-width", 3.5)
        .attr("stroke-dasharray", "3.5,13.8");
});
</script>
</body>
</html>
